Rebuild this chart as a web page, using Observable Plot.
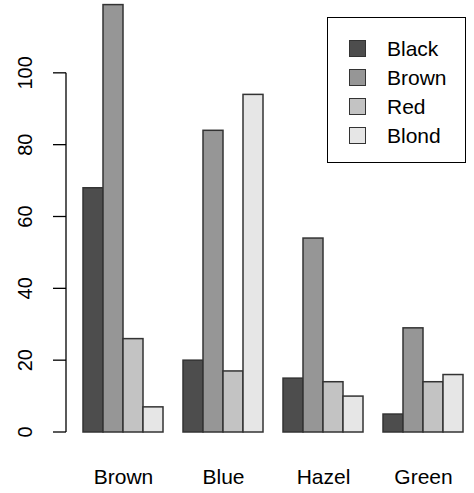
<!DOCTYPE html>
<html>
<head>
<meta charset="utf-8">
<script src="https://cdn.jsdelivr.net/npm/d3@7"></script>
<script src="https://cdn.jsdelivr.net/npm/@observablehq/plot@0.6"></script>
<style>
  body { margin: 0; background: white; }
  #chart { position: relative; width: 474px; height: 493px; font-family: "Liberation Sans", Arial, sans-serif; }
  .legend { position: absolute; left: 327px; top: 17px; width: 139px; height: 146px; border: 1.3px solid #000; box-sizing: border-box; background: white; }
  .legend div { position: absolute; left: 21px; font-size: 21px; line-height: 20px; }
  .legend span { display: inline-block; width: 17px; height: 17px; border: 1.5px solid #333; box-sizing: border-box; margin-right: 21px; vertical-align: -1px; }
</style>
</head>
<body>
<div id="chart"></div>
<script>
// counts, hair colour inside eye colour groups
const eyes = ['Brown', 'Blue', 'Hazel', 'Green']
const hair = ['Black', 'Brown', 'Red', 'Blond']
const black = [68, 20, 15, 5]
const brown = [119, 84, 54, 29]
const red = [26, 17, 14, 14]
const blond = [7, 94, 10, 16]
const greys = ['#4D4D4D', '#969696', '#C3C3C3', '#E6E6E6']
const yTicks = [0, 20, 40, 60, 80, 100]

const series = [black, brown, red, blond]
const data = []
eyes.forEach((e, i) => {
  hair.forEach((h, j) => data.push({eye: e, hair: h, n: series[j][i]}))
})

let chart = Plot.plot({
  width: 474,
  height: 493,
  marginLeft: 66,
  marginRight: 10,
  marginTop: 1,
  marginBottom: 61,
  fx: {domain: eyes, paddingInner: 0.2, paddingOuter: 0, insetLeft: 15, label: null, axis: null},
  x: {domain: hair, padding: 0, axis: null},
  y: {domain: [0, 120], axis: null},
  color: {domain: hair, range: greys},
  marks: [
    Plot.barY(data, {fx: 'eye', x: 'hair', y: 'n', fill: 'hair', stroke: '#333', strokeWidth: 1.5, insetLeft: 0, insetRight: 0}),
    Plot.text(eyes, {fx: d => d, frameAnchor: 'bottom', dy: 51, text: d => d, fontSize: 21, facetAnchor: 'bottom'})
  ],
  style: {fontFamily: '"Liberation Sans", Arial, sans-serif', color: 'black', background: 'white', overflow: 'visible'}
})

// base R style y axis, placed with the plot's y scale
const y = chart.scale('y')
const ax = d3.select(chart).append('g').attr('stroke', '#000').attr('stroke-width', 1.3)
ax.append('line')
  .attr('x1', 66).attr('x2', 66)
  .attr('y1', y.apply(0)).attr('y2', y.apply(100))
yTicks.forEach(v => {
  ax.append('line').attr('x1', 53).attr('x2', 66).attr('y1', y.apply(v)).attr('y2', y.apply(v))
  ax.append('text')
    .attr('transform', `translate(32,${y.apply(v)}) rotate(-90)`)
    .attr('text-anchor', 'middle')
    .attr('stroke', 'none')
    .attr('fill', '#000')
    .attr('font-size', 20)
    .text(v)
})

d3.select('#chart').append(() => chart)

const legend = d3.select('#chart').append('div').attr('class', 'legend')
hair.forEach((h, i) => {
  const row = legend.append('div').style('top', (21 + i * 29) + 'px')
  row.append('span').style('background', greys[i])
  row.append('text').text(h)
})
</script>
</body>
</html>
